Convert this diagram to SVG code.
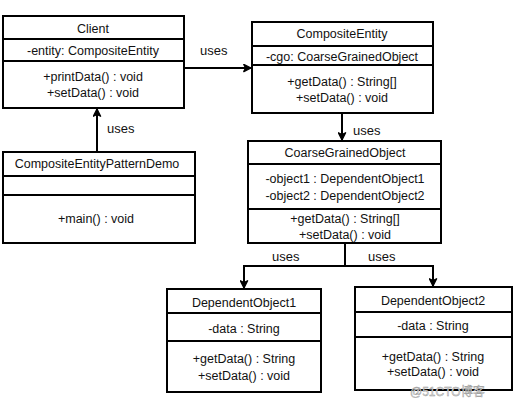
<svg xmlns="http://www.w3.org/2000/svg" width="515" height="403" viewBox="0 0 515 403">
<style>
.box{fill:#fff;stroke:#000;stroke-width:2}
.div{stroke:#000;stroke-width:2}
text{font-family:"Liberation Sans",Arial,sans-serif;font-size:12.5px;fill:#111;text-anchor:middle}
.lbl{font-size:13px;text-anchor:start}
.con{fill:none;stroke:#000;stroke-width:2}
.wm{font-family:"Liberation Sans","Noto Sans CJK SC",sans-serif;font-size:12px;fill:#ddd;stroke:#999;stroke-width:0.4;text-anchor:start}
</style>
<defs>
<marker id="arr" viewBox="0 0 10 10" refX="9" refY="5" markerWidth="9" markerHeight="9" markerUnits="userSpaceOnUse" orient="auto">
<path d="M1,1 L9,5 L1,9 L3,5 Z" fill="#000" stroke="#000" stroke-width="1.5" stroke-linejoin="round"/>
</marker>
</defs>
<rect width="515" height="403" fill="#fff"/>
<g id="connectors">
<line class="con" x1="184" y1="68" x2="251" y2="68" marker-end="url(#arr)"/>
<line class="con" x1="97" y1="152" x2="97" y2="109" marker-end="url(#arr)"/>
<line class="con" x1="342" y1="113" x2="342" y2="140" marker-end="url(#arr)"/>
<polyline class="con" points="345,243 345,266 244,266 244,288" marker-end="url(#arr)"/>
<polyline class="con" points="345,266 433,266 433,286" marker-end="url(#arr)"/>
<text class="lbl" x="200" y="55">uses</text>
<text class="lbl" x="107" y="133">uses</text>
<text class="lbl" x="353" y="135">uses</text>
<text class="lbl" x="272" y="261">uses</text>
<text class="lbl" x="368" y="261">uses</text>
</g>
<g id="Client">
<rect class="box" x="3" y="16" width="181" height="92"/>
<line class="div" x1="3" y1="39" x2="184" y2="39"/>
<line class="div" x1="3" y1="61" x2="184" y2="61"/>
<text x="93" y="33">Client</text>
<text x="93" y="55">-entity:  CompositeEntity</text>
<text x="93" y="81">+printData() : void</text>
<text x="93" y="97">+setData() : void</text>
</g>
<g id="CompositeEntity">
<rect class="box" x="252" y="22" width="181" height="91"/>
<line class="div" x1="252" y1="46" x2="433" y2="46"/>
<line class="div" x1="252" y1="65" x2="433" y2="65"/>
<text x="342" y="38">CompositeEntity</text>
<text x="342" y="61">-cgo: CoarseGrainedObject</text>
<text x="342" y="86">+getData() : String[]</text>
<text x="342" y="102">+setData() : void</text>
</g>
<g id="CompositeEntityPatternDemo">
<rect class="box" x="3" y="152" width="192" height="91"/>
<line class="div" x1="3" y1="176" x2="195" y2="176"/>
<line class="div" x1="3" y1="195" x2="195" y2="195"/>
<text x="97" y="168">CompositeEntityPatternDemo</text>
<text x="96" y="223">+main()  : void</text>
</g>
<g id="CoarseGrainedObject">
<rect class="box" x="248" y="141" width="193" height="102"/>
<line class="div" x1="248" y1="164" x2="441" y2="164"/>
<line class="div" x1="248" y1="209" x2="441" y2="209"/>
<text x="345" y="157">CoarseGrainedObject</text>
<text x="345" y="183">-object1  : DependentObject1</text>
<text x="345" y="200">-object2  : DependentObject2</text>
<text x="345" y="223">+getData() : String[]</text>
<text x="345" y="239">+setData() : void</text>
</g>
<g id="DependentObject1">
<rect class="box" x="167" y="289" width="154" height="103"/>
<line class="div" x1="167" y1="313" x2="321" y2="313"/>
<line class="div" x1="167" y1="341" x2="321" y2="341"/>
<text x="244" y="307">DependentObject1</text>
<text x="244" y="333">-data : String</text>
<text x="244" y="363">+getData() : String</text>
<text x="244" y="380">+setData() : void</text>
</g>
<g id="DependentObject2">
<rect class="box" x="355" y="287" width="157" height="103"/>
<line class="div" x1="355" y1="312" x2="512" y2="312"/>
<line class="div" x1="355" y1="337" x2="512" y2="337"/>
<text x="433" y="305">DependentObject2</text>
<text x="433" y="330">-data : String</text>
<text x="433" y="361">+getData() : String</text>
<text x="433" y="376">+setData() : void</text>
</g>
<text class="wm" x="410" y="396">@51CTO博客</text>
</svg>
